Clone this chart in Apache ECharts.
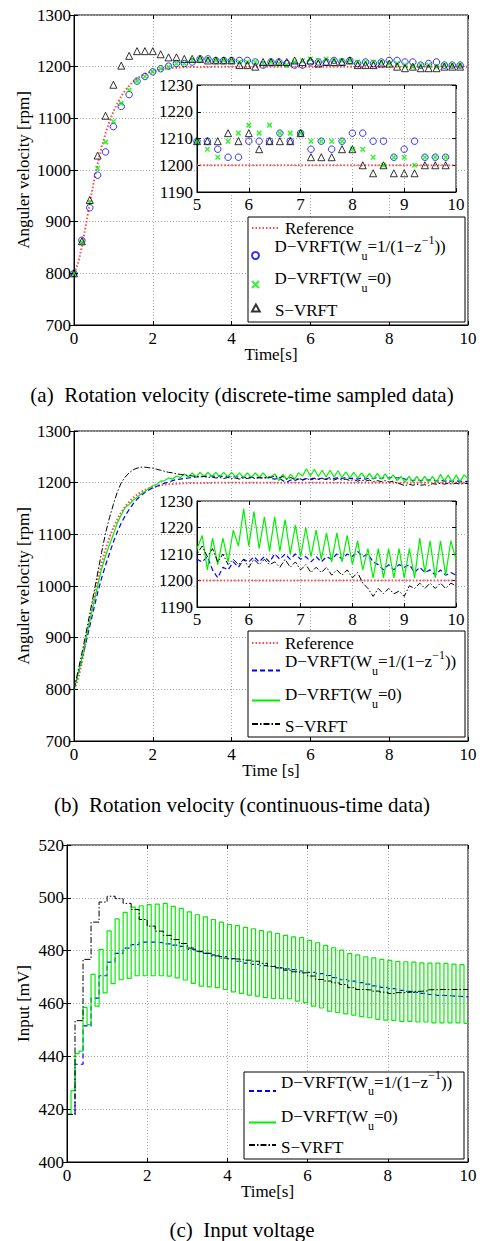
<!DOCTYPE html>
<html><head><meta charset="utf-8">
<script src="https://cdn.jsdelivr.net/npm/echarts@6/dist/echarts.min.js"></script>
<style>html,body{margin:0;padding:0;background:#fff}#c{width:484px;height:1241px}</style>
</head><body><div id="c"></div>
<script>
// ---------- DATA ----------
const t01 = [0,0.1,0.2,0.3,0.4,0.5,0.6,0.7,0.8,0.9,1,1.1,1.2,1.3,1.4,1.5,1.6,1.7,1.8,1.9,2,2.1,2.2,2.3,2.4,2.5,2.6,2.7,2.8,2.9,3,3.1,3.2,3.3,3.4,3.5,3.6,3.7,3.8,3.9,4,4.1,4.2,4.3,4.4,4.5,4.6,4.7,4.8,4.9,5,5.1,5.2,5.3,5.4,5.5,5.6,5.7,5.8,5.9,6,6.1,6.2,6.3,6.4,6.5,6.6,6.7,6.8,6.9,7,7.1,7.2,7.3,7.4,7.5,7.6,7.7,7.8,7.9,8,8.1,8.2,8.3,8.4,8.5,8.6,8.7,8.8,8.9,9,9.1,9.2,9.3,9.4,9.5,9.6,9.7,9.8,9.9,10];
const t02 = [0,0.2,0.4,0.6,0.8,1,1.2,1.4,1.6,1.8,2,2.2,2.4,2.6,2.8,3,3.2,3.4,3.6,3.8,4,4.2,4.4,4.6,4.8,5,5.2,5.4,5.6,5.8,6,6.2,6.4,6.6,6.8,7,7.2,7.4,7.6,7.8,8,8.2,8.4,8.6,8.8,9,9.2,9.4,9.6,9.8,10];

// reference model output
const refT = [0,0.1,0.2,0.3,0.4,0.5,0.6,0.7,0.8,0.9,1,1.1,1.2,1.3,1.4,1.5,1.6,1.7,1.8,1.9,2,2.1,2.2,2.3,2.4,2.5,2.6,2.7,2.8,2.9,3,3.1,3.2,3.3,3.4,4,5,6,7,8,9,10];
const refV = [800,818,852,893,936,976,1012,1044,1071,1094,1113,1129,1143,1154,1163,1171,1177,1182,1186,1189,1191,1193,1195,1196,1197,1197.5,1198,1198.5,1199,1199,1199.5,1199.5,1199.5,1199.5,1199.5,1200,1200,1200,1200,1200,1200,1200];

// (a) sampled data, t = 0, 0.2, ..., 9.8
const sampD1 = [800,864,927,990,1035,1084,1123,1146,1172,1181,
  1190,1196,1201,1206,1206,1209,1215,1215,1212,1212,
  1212,1212,1212,1209,1203,1209,1209,1206,1203,1203,
  1209,1209,1209,1212,1209,1212,1206,1209,1206,1209,
  1212,1212,1209,1209,1203,1206,1209,1203,1203,1203];
const sampD0 = [800,860,937,1003,1054,1094,1129,1155,1172,1181,
  1190,1196,1200,1206,1206,1212,1215,1215,1212,1212,
  1212,1209,1209,1209,1206,1209,1206,1203,1209,1212,
  1215,1212,1215,1212,1212,1212,1209,1209,1209,1209,
  1206,1206,1203,1200,1203,1203,1200,1203,1203,1203];
const sampS = [800,862,942,1028,1105,1165,1202,1221,1230,1230,
  1230,1224,1218,1218,1215,1215,1215,1212,1212,1212,
  1212,1203,1203,1200,1209,1209,1209,1209,1212,1209,
  1212,1206,1209,1209,1209,1212,1203,1203,1203,1206,
  1206,1200,1197,1200,1197,1197,1197,1200,1200,1200];

// (b) continuous data, t = 0, 0.1, ..., 10
const contD0 = [800,828,860,897,933,966,1000,1033,1058,1080,
  1100,1122,1138,1152,1158,1166,1172,1178,1183,1189,
  1194,1197,1203,1204,1209,1207,1213,1210,1217,1211,
  1219,1211,1220,1212,1220,1212,1220,1211,1220,1211,
  1220,1211,1219,1210,1219,1210,1219,1210,1219,1210,
  1212,1217,1204,1216,1206,1216,1207,1219,1213,1227,
  1213,1226,1212,1224,1211,1224,1211,1223,1210,1221,
  1209,1220,1209,1219,1208,1218,1207,1218,1207,1217,
  1206,1215,1204,1212,1201,1212,1201,1212,1201,1212,
  1201,1212,1201,1216,1203,1215,1201,1215,1202,1215,
  1208];
const contD1 = [800,828,858,890,922,955,987,1015,1040,1063,
  1085,1105,1122,1136,1148,1159,1168,1175,1181,1186,
  1190,1193,1196,1199,1201,1204,1206,1207,1208,1209,
  1210,1211,1212,1212,1213,1213,1212,1213,1211,1212,
  1210,1212,1210,1211,1209,1211,1209,1210,1208,1210,
  1208,1207,1209,1204,1201,1205,1204,1207,1205,1208,
  1207,1209,1207,1209,1207,1210,1208,1210,1208,1210,
  1208,1209,1207,1209,1207,1209,1208,1210,1208,1210,
  1209,1211,1209,1210,1207,1206,1204,1206,1204,1206,
  1205,1206,1203,1205,1203,1204,1202,1204,1202,1203,
  1202];
const contS = [800,835,870,907,946,985,1025,1065,1102,1132,
  1158,1182,1200,1211,1219,1225,1228,1230,1230,1229,
  1228,1226,1224,1222,1220,1219,1217,1216,1215,1214,
  1213,1212,1211,1212,1210,1211,1209,1210,1208,1210,
  1208,1209,1207,1209,1208,1210,1208,1210,1209,1211,
  1210,1213,1209,1212,1207,1210,1206,1208,1206,1208,
  1205,1208,1206,1208,1206,1207,1205,1208,1205,1207,
  1204,1206,1203,1205,1203,1205,1202,1204,1202,1204,
  1201,1203,1199,1197,1194,1197,1195,1197,1195,1196,
  1194,1198,1197,1199,1197,1199,1197,1199,1197,1199,
  1198];

// (c) input voltage (zero-order hold)
const uD0 = [418,427,441,442,458.5,452,471,459,480.5,464,
  487.5,467.5,492,469,494.5,469.5,496.5,470.5,497,470.5,
  497.4,470.5,497.6,470.5,497.9,470.4,496.8,469.7,496,468.9,
  494.7,467.6,493.6,466.6,492.8,466.3,491.8,466,490.8,465.3,
  489.9,464.4,489.5,463.8,488.8,463.2,488.3,462.8,487.6,462.2,
  487.1,461.9,486.5,461.8,485.8,461.8,485.2,460.9,484.9,460.3,
  483.9,459,483,458.3,482,457.1,481.1,456.6,480.2,456.1,
  478.9,455.6,478.4,455,477.7,454.6,477.3,454,476.7,453.7,
  476.3,453.6,475.9,453.2,475.8,453.2,475.7,453,475.4,453,
  475.3,452.7,475.3,452.7,475.2,452.7,474.9,452.7,474.7,452.5,
  452.5];
const uD1 = [418,437,451.5,462,470.5,475.7,479,481,482.3,483.2,
  483.2,483,482.6,482.1,481.6,480.5,479.6,479,478.4,477.8,
  477,476,475.3,474.8,474.3,474,473.5,473.1,472.8,472.3,
  471.8,471.3,470.6,469.8,469,468.5,467.9,467.3,466.7,466.1,
  465.6,465,464.6,464.2,463.8,463.4,463.1,462.9,462.7,462.5,
  462.5];
const uS = [418,453.5,476.7,490.8,498.4,500.6,499.7,497.9,495.6,491.8,
  489.3,487.4,485.8,484.2,482.7,481,479.8,479,478,477.2,
  476.9,476.7,476.4,476,475.2,474.1,473.5,472.6,472,471.6,
  470.4,469.1,468.5,467.8,467.2,466,465.3,465.1,464.7,464.3,
  463.8,464.1,464.3,464.6,464.8,465.2,465.3,465.3,465.3,465.3,
  465.3];

const captions = ['(a)\u00a0 Rotation velocity (discrete-time sampled data)',
                  '(b)\u00a0 Rotation velocity (continuous-time data)',
                  '(c)\u00a0 Input voltage'];
const nameRef = 'Reference', nameD1 = 'D-VRFT(Wu=1/(1-z^-1))', nameD0 = 'D-VRFT(Wu=0)', nameS = 'S-VRFT';

// ---------- BUILD ----------
const FF = "'Liberation Serif','Times New Roman',serif";
const zip = (ts, vs) => vs.map((v, i) => [ts[i], v]);
const sfx = ['', '\u200b', '\u200b\u200b'];
const N = (base, p) => base + sfx[p];

const C_RED = '#ff4a4a', C_BLUE = '#0000ff', C_GREEN = '#00f000', C_BLACK = '#000000';
const NOFILL = 'rgba(0,0,0,0)';
const TRI = 'path://M5,0L10,9L0,9Z';
const CROSS = 'path://M0,0L10,10M10,0L0,10';

const xAxes = [], yAxes = [];
function addAxes(g, xr, yr, inset, xName, yName, yGap) {
  const z = inset ? 4 : 0;
  const split = {show: true, lineStyle: {color: '#a8a8a8', type: [1, 2], width: 1}};
  const tick = {show: true, inside: true, length: 4, lineStyle: {color: '#000'}};
  const lab = {color: '#000', fontSize: 17, fontFamily: FF, formatter: (v) => String(v)};
  xAxes.push({type: 'value', gridIndex: g, position: 'bottom', min: xr[0], max: xr[1], interval: xr[2], z,
    axisLine: {show: true, onZero: false, lineStyle: {color: '#000'}}, axisTick: tick, splitLine: split,
    axisLabel: Object.assign({margin: inset ? 4 : 5}, lab),
    name: xName || '', nameLocation: 'middle', nameGap: 21, nameMoveOverlap: false,
    nameTextStyle: {color: '#000', fontSize: 17, fontFamily: FF}});
  xAxes.push({type: 'value', gridIndex: g, position: 'top', min: xr[0], max: xr[1], interval: xr[2], z,
    axisLine: {show: false}, axisTick: tick, splitLine: {show: false}, axisLabel: {show: false}});
  yAxes.push({type: 'value', gridIndex: g, position: 'left', min: yr[0], max: yr[1], interval: yr[2], z,
    axisLine: {show: true, onZero: false, lineStyle: {color: '#000'}}, axisTick: tick, splitLine: split,
    axisLabel: Object.assign({margin: inset ? 4 : 3}, lab),
    name: yName || '', nameLocation: 'middle', nameGap: yGap || 40, nameMoveOverlap: false,
    nameTextStyle: {color: '#000', fontSize: 17, fontFamily: FF}});
  yAxes.push({type: 'value', gridIndex: g, position: 'right', min: yr[0], max: yr[1], interval: yr[2], z,
    axisLine: {show: false}, axisTick: tick, splitLine: {show: false}, axisLabel: {show: false}});
}
addAxes(0, [0, 10, 2], [700, 1300, 100], false, 'Time[s]', 'Anguler velocity [rpm]', 42);
addAxes(1, [5, 10, 1], [1190, 1230, 10], true);
addAxes(2, [0, 10, 2], [700, 1300, 100], false, 'Time [s]', 'Anguler velocity [rpm]', 42);
addAxes(3, [5, 10, 1], [1190, 1230, 10], true);
addAxes(4, [0, 10, 2], [400, 520, 20], false, 'Time[s]', 'Input [mV]', 35);

const gridBase = {show: true, borderColor: '#000', borderWidth: 1, backgroundColor: '#fff'};
const grids = [
  Object.assign({left: 74, top: 15, width: 394, height: 310}, gridBase),
  Object.assign({left: 197, top: 85, width: 259, height: 107, z: 3}, gridBase),
  Object.assign({left: 74, top: 431, width: 394, height: 310}, gridBase),
  Object.assign({left: 197, top: 501, width: 259, height: 106, z: 3}, gridBase),
  Object.assign({left: 67, top: 845, width: 401, height: 317}, gridBase)
];

const series = [];
function lineSeries(name, ax, z, data, color, width, type, step) {
  const s = {type: 'line', name, xAxisIndex: ax, yAxisIndex: ax, z, silent: true, clip: true,
    data, showSymbol: false, symbol: 'none',
    lineStyle: {color, width, type: type || 'solid'}, itemStyle: {color: NOFILL, borderWidth: 0}};
  if (step) s.step = step;
  series.push(s);
}
function sampSeries(ax, z) {
  lineSeries(N(nameRef, 0), ax, z, zip(refT, refV), C_RED, 2, [1.5, 2]);
  series.push({type: 'scatter', name: nameD1, xAxisIndex: ax, yAxisIndex: ax, z, silent: true, clip: true,
    data: zip(t02, sampD1), symbol: 'circle', symbolSize: 6.5,
    itemStyle: {color: NOFILL, borderColor: C_BLUE, borderWidth: 1}});
  series.push({type: 'scatter', name: nameD0, xAxisIndex: ax, yAxisIndex: ax, z, silent: true, clip: true,
    data: zip(t02, sampD0), symbol: CROSS, symbolSize: 4.5,
    itemStyle: {color: NOFILL, borderColor: C_GREEN, borderWidth: 1.5}});
  series.push({type: 'scatter', name: nameS, xAxisIndex: ax, yAxisIndex: ax, z, silent: true, clip: true,
    data: zip(t02, sampS), symbol: TRI, symbolSize: 7,
    itemStyle: {color: NOFILL, borderColor: C_BLACK, borderWidth: 1}});
}
function contSeries(ax, z) {
  lineSeries(N(nameRef, 1), ax, z, zip(refT, refV), C_RED, 2, [1.5, 2]);
  lineSeries(N(nameD1, 1), ax, z, zip(t01, contD1), C_BLUE, 1.2, [5, 3]);
  lineSeries(N(nameD0, 1), ax, z, zip(t01, contD0), C_GREEN, 1.2);
  lineSeries(N(nameS, 1), ax, z, zip(t01, contS), C_BLACK, 1, [6, 2, 1.5, 2]);
}
sampSeries(0, 2);
contSeries(4, 2);
lineSeries(N(nameD1, 2), 8, 2, zip(t02, uD1), C_BLUE, 1.2, [5, 3], 'end');
lineSeries(N(nameD0, 2), 8, 2, zip(t01, uD0), C_GREEN, 1.2, null, 'end');
lineSeries(N(nameS, 2), 8, 2, zip(t02, uS), C_BLACK, 1, [6, 2, 1.5, 2], 'end');
// insets (drawn above their white background)
sampSeries(2, 5);
contSeries(6, 5);

// legend text with sub/superscripts
const LH = 17;
const legendRich = {
  m:  {fontSize: 17, fontFamily: FF, color: '#000', lineHeight: LH},
  sb: {fontSize: 12, fontFamily: FF, color: '#000', lineHeight: LH, padding: [18, 0, 0, 0]},
  sp: {fontSize: 12, fontFamily: FF, color: '#000', lineHeight: LH, padding: [0, 0, 14, 0]}
};
const legendLabel = {};
legendLabel[nameRef] = '{m|Reference}';
legendLabel[nameD1] = '{m|D\u2212VRFT(W}{sb|u}{m|=1/(1\u2212z}{sp|\u22121}{m|))}';
legendLabel[nameD0] = '{m|D\u2212VRFT(W}{sb|u}{m|=0)}';
legendLabel[nameS] = '{m|S\u2212VRFT}';
const itemPad = {}, halfH = {};
itemPad[nameRef] = [0, 0, 0, 0];   halfH[nameRef] = 8.5;
itemPad[nameD1] = [0, 0, 18, 0];   halfH[nameD1] = 22.5;
itemPad[nameD0] = [0, 0, 12, 0];   halfH[nameD0] = 14.5;
itemPad[nameS] = [4, 0, 0, 0];     halfH[nameS] = 10.5;
// one legend component per entry so each row can be placed on the reference row
function legendItem(p, n, left, iconY, iw) {
  return {show: true, orient: 'vertical', left, top: iconY - halfH[n], padding: 0, itemWidth: iw, itemHeight: 7,
    symbolKeepAspect: true, selectedMode: false, align: 'left', z: 6,
    data: [{name: N(n, p), textStyle: {padding: itemPad[n]}}],
    formatter: (name) => legendLabel[name.replace(/\u200b/g, '')],
    textStyle: {fontFamily: FF, fontSize: 17, color: '#000', lineHeight: LH, rich: legendRich}};
}
const legends = [
  legendItem(0, nameRef, 251, 228, 28), legendItem(0, nameD1, 251, 254, 28),
  legendItem(0, nameD0, 251, 278, 28), legendItem(0, nameS, 251, 308, 28),
  legendItem(1, nameRef, 251, 643, 28), legendItem(1, nameD1, 251, 669, 28),
  legendItem(1, nameD0, 251, 694, 28), legendItem(1, nameS, 251, 724, 28),
  legendItem(2, nameD1, 248, 1089.5, 27), legendItem(2, nameD0, 248, 1116, 27),
  legendItem(2, nameS, 248, 1145, 27)
];
// legend frames
const frame = (x, y, w, h) => ({type: 'rect', left: x, top: y, z: 5, silent: true,
  shape: {width: w, height: h}, style: {fill: '#fff', stroke: '#000', lineWidth: 1}});

const option = {
  animation: false,
  textStyle: {fontFamily: FF},
  title: [
    {text: captions[0], left: 'center', top: 384, padding: 0, textStyle: {fontSize: 21, fontWeight: 'normal', fontFamily: FF, color: '#000'}},
    {text: captions[1], left: 'center', top: 794, padding: 0, textStyle: {fontSize: 21, fontWeight: 'normal', fontFamily: FF, color: '#000'}},
    {text: captions[2], left: 'center', top: 1219, padding: 0, textStyle: {fontSize: 21, fontWeight: 'normal', fontFamily: FF, color: '#000'}}
  ],
  graphic: [frame(247.5, 216.5, 217, 105), frame(247.5, 630.5, 217, 106), frame(243.5, 1071.5, 220, 87)],
  legend: legends,
  grid: grids,
  xAxis: xAxes,
  yAxis: yAxes,
  series
};
const chart = echarts.init(document.getElementById('c'), null, {renderer: 'svg', width: 484, height: 1241});
chart.setOption(option);
</script>
</body></html>
